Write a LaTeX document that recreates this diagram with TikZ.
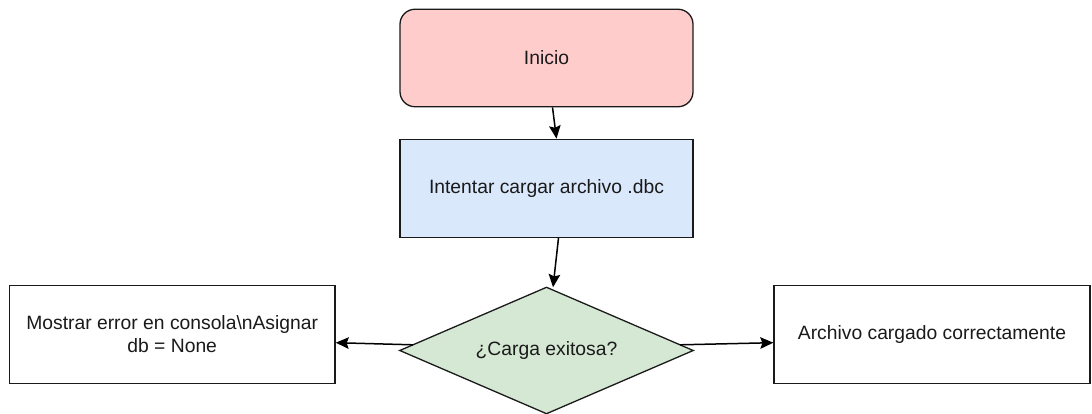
\documentclass[tikz,border=0pt]{standalone}
\usepackage{fontspec}
\setmainfont{Liberation Sans}
\usetikzlibrary{arrows.meta,calc}

\definecolor{startfill}{HTML}{FFCCCC}
\definecolor{stepfill}{HTML}{DAE8FC}
\definecolor{askfill}{HTML}{D5E8D4}
\definecolor{edge}{HTML}{1A1A1A}

\tikzset{
  basebox/.style={draw=edge, line width=1.3pt, inner sep=4pt, align=center,
    font=\fontsize{19.3}{23.2}\selectfont, text=edge},
  startbox/.style={basebox, rectangle, rounded corners=15pt, fill=startfill,
    minimum width=293pt, minimum height=97.5pt},
  stepbox/.style={basebox, rectangle, fill=stepfill,
    minimum width=293pt, minimum height=98pt},
  % text holder of the decision; its rhombus is drawn through its anchors
  askbox/.style={rectangle, inner sep=0pt, align=center,
    font=\fontsize{19.3}{23.2}\selectfont, text=edge,
    minimum width=293pt, minimum height=126pt},
  rhombus/.style={draw=edge, line width=1.3pt, fill=askfill, line join=miter},
  endbox/.style={basebox, rectangle, fill=white, minimum height=97.6pt},
  flow/.style={draw=black, line width=1.5pt,
    -{Stealth[length=13pt, width=11.5pt, inset=2pt]}},
}

\begin{document}
\begin{tikzpicture}[x=1pt, y=-1pt]
  \useasboundingbox (0,0) rectangle (1092,414);

  \node[startbox] (inicio) at (546.5, 58) {Inicio};
  \node[stepbox] (cargar) at (546.5, 188.3) {Intentar cargar archivo .dbc};
  \node[askbox] (exito) at (546.5, 350.5) {};
  \draw[rhombus] (exito.north) -- (exito.east) -- (exito.south)
    -- (exito.west) -- cycle;
  \node[askbox] at (exito.center) {¿Carga exitosa?};
  \node[endbox, minimum width=325.7pt] (error) at (172.2, 334.5)
    {Mostrar error en consola\textbackslash nAsignar\\db = None};
  \node[endbox, minimum width=316pt] (ok) at (932, 334.5)
    {Archivo cargado correctamente};

  \draw[flow] ($(inicio.south)+(6,0)$) -- ($(cargar.north)+(10,0)$);
  \draw[flow] ($(cargar.south)+(12,0)$) -- ($(exito.north)+(6.5,0)$);
  \draw[flow] ($(exito.west)!0.09!(exito.north)$) -- ($(error.east)+(0,8.2)$);
  \draw[flow] ($(exito.east)!0.09!(exito.north)$) -- ($(ok.west)+(0,8.2)$);
\end{tikzpicture}
\end{document}
